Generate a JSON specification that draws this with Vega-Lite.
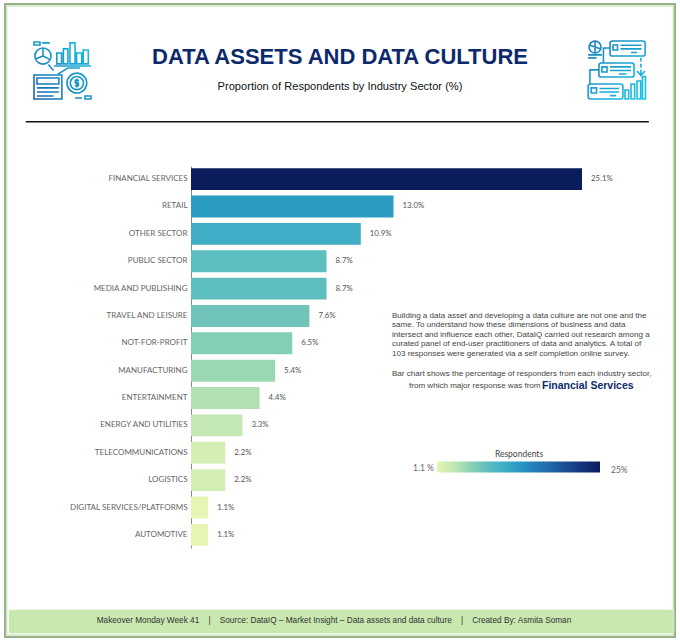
{
  "$schema": "https://vega.github.io/schema/vega-lite/v6.json",
  "width": 670,
  "height": 633,
  "autosize": {"type": "none"},
  "padding": {"left": 5, "top": 4, "right": 5, "bottom": 3},
  "background": "white",
  "config": {
    "view": {"stroke": "#97b08c", "strokeWidth": 2},
    "text": {"font": "Liberation Sans"}
  },
  "layer": [
    {
      "layer": [
        {
          "data": {"values": [{"part": "footer band"}]},
          "mark": {"type": "rect", "fill": "#c8e8b0"},
          "encoding": {
            "x": {"datum": 0.6, "axis": null, "scale": {"domain": [0, 100], "range": [0, 670]}},
            "x2": {"datum": 99.9},
            "y": {"datum": 95.7, "axis": null, "scale": {"domain": [0, 100], "range": [0, 633]}},
            "y2": {"datum": 99.4}
          }
        },
        {
          "data": {"values": [{"part": "frame inner edge"}]},
          "mark": {"type": "rect", "fill": null, "stroke": "#cfe8bf", "strokeWidth": 1.5},
          "encoding": {
            "x": {"datum": 0.25, "axis": null},
            "x2": {"datum": 99.75},
            "y": {"datum": 0.3, "axis": null},
            "y2": {"datum": 99.7}
          }
        },
        {
          "data": {"values": [{"part": "divider"}]},
          "mark": {"type": "rule", "color": "#111111", "strokeWidth": 1.5},
          "encoding": {
            "x": {"datum": 3.1, "axis": null},
            "x2": {"datum": 96.1},
            "y": {"datum": 18.6, "axis": null}
          }
        },
        {
          "data": {"values": [{"text": "DATA ASSETS AND DATA CULTURE"}]},
          "mark": {"type": "text", "font": "Liberation Sans", "fontSize": 22, "fontWeight": "bold", "color": "#0c2a6b", "align": "center", "baseline": "middle"},
          "encoding": {"text": {"field": "text"}, "x": {"datum": 50, "axis": null}, "y": {"datum": 8.3, "axis": null}}
        },
        {
          "data": {"values": [{"text": "Proportion of Respondents by Industry Sector (%)"}]},
          "mark": {"type": "text", "font": "Liberation Sans", "fontSize": 11.1, "color": "#111111", "align": "center", "baseline": "middle"},
          "encoding": {"text": {"field": "text"}, "x": {"datum": 50, "axis": null}, "y": {"datum": 13.1, "axis": null}}
        },
        {
          "data": {"values": [{"text": "Makeover Monday Week 41\u00a0\u00a0\u00a0\u00a0|\u00a0\u00a0\u00a0\u00a0Source: DataIQ \u2013 Market Insight \u2013 Data assets and data culture\u00a0\u00a0\u00a0\u00a0|\u00a0\u00a0\u00a0\u00a0Created By: Asmita Soman"}]},
          "mark": {"type": "text", "font": "Liberation Sans", "fontSize": 8.25, "color": "#333333", "align": "center", "baseline": "middle"},
          "encoding": {"text": {"field": "text"}, "x": {"datum": 49.1, "axis": null}, "y": {"datum": 97.5, "axis": null}}
        },
        {
          "data": {"values": [{"text": ["Building a data asset and developing a data culture are not one and the", "same. To understand how these dimensions of business and data", "intersect and influence each other, DataIQ carried out research among a", "curated panel of end-user practitioners of data and analytics. A total of", "103 responses were generated via a self completion online survey."]}]},
          "mark": {"type": "text", "font": "Liberation Sans", "fontSize": 8.05, "lineHeight": 9.5, "color": "#444444", "align": "left", "baseline": "top"},
          "encoding": {"text": {"field": "text"}, "x": {"datum": 57.76, "axis": null}, "y": {"datum": 48.6, "axis": null}}
        },
        {
          "data": {"values": [{"text": "Bar chart shows the percentage of responders from each industry sector,"}]},
          "mark": {"type": "text", "font": "Liberation Sans", "fontSize": 8.05, "color": "#444444", "align": "left", "baseline": "middle"},
          "encoding": {"text": {"field": "text"}, "x": {"datum": 57.76, "axis": null}, "y": {"datum": 58.45, "axis": null}}
        },
        {
          "data": {"values": [{"text": "from which major response was from"}]},
          "mark": {"type": "text", "font": "Liberation Sans", "fontSize": 8.05, "color": "#444444", "align": "left", "baseline": "middle"},
          "encoding": {"text": {"field": "text"}, "x": {"datum": 60.3, "axis": null}, "y": {"datum": 60.35, "axis": null}}
        },
        {
          "data": {"values": [{"text": "Financial Services"}]},
          "mark": {"type": "text", "font": "Liberation Sans", "fontSize": 10.5, "fontWeight": "bold", "color": "#0c2a6b", "align": "left", "baseline": "middle"},
          "encoding": {"text": {"field": "text"}, "x": {"datum": 80.15, "axis": null}, "y": {"datum": 60.4, "axis": null}}
        },
        {
          "data": {"values": [{"icon": "analytics"}]},
          "mark": {
            "type": "point",
            "filled": false,
            "size": 3600,
            "strokeWidth": 1.6,
            "opacity": 1,
            "stroke": {"gradient": "linear", "x1": 1, "y1": 0, "x2": 0, "y2": 1, "stops": [{"offset": 0, "color": "#18c6e6"}, {"offset": 1, "color": "#1a62a8"}]},
            "shape": "M-.95 -.95H-.75V-.85H-.95ZM-.68 -.92H-.42M-.92 -.48A.27 .27 0 1 1 -.38 -.48A.27 .27 0 1 1 -.92 -.48ZM-.65 -.75V-.48L-.42 -.36M-.65 -.48L-.9 -.38M-.47 -.2L-.3 0M-.19 -.22V-.58H-.03V-.22ZM.03 -.22V-.72H.18V-.22ZM.25 -.22V-.92H.42V-.22ZM.47 -.22V-.58H.64V-.22ZM.69 -.22V-.68H.86V-.22ZM-.28 -.15H.95M-.95 .15H-.02V.95H-.95ZM-.85 .25H-.12V.45H-.85ZM-.85 .58H-.12M-.85 .72H-.12M-.85 .85H-.3M-.15 .12L.18 -.08H.58M.15 .42A.33 .33 0 1 1 .81 .42A.33 .33 0 1 1 .15 .42ZM.26 .42A.22 .22 0 1 1 .7 .42A.22 .22 0 1 1 .26 .42ZM.55 .33H.43V.42H.53V.51H.41M.48 .27V.57M.42 .92H.65M.75 .85H.95V.95H.75Z"
          },
          "encoding": {"x": {"datum": 8.58, "axis": null}, "y": {"datum": 10.5, "axis": null}}
        },
        {
          "data": {"values": [{"icon": "workflow"}]},
          "mark": {
            "type": "point",
            "filled": false,
            "size": 3600,
            "strokeWidth": 1.6,
            "opacity": 1,
            "stroke": {"gradient": "linear", "x1": 0, "y1": 0, "x2": 1, "y2": 1, "stops": [{"offset": 0, "color": "#1a7fb8"}, {"offset": 1, "color": "#18c6e6"}]},
            "shape": "M-.9 -.78A.2 .2 0 1 1 -.5 -.78A.2 .2 0 1 1 -.9 -.78ZM-.7 -.98V-.58M-.88 -.84L-.52 -.72M-.93 -.52H-.47M-.93 -.42H-.65M-.2 -.9Q-.2 -.98 -.12 -.98H.89Q.97 -.98 .97 -.9V-.56Q.97 -.48 .89 -.48H-.12Q-.2 -.48 -.2 -.56ZM-.1 -.85H.05V-.68H-.1ZM.15 -.84H.85M.15 -.72H.85M.5 -.6H.7M-.2 -.75H-.42V-.25M-.57 -.17Q-.57 -.25 -.49 -.25H.52Q.6 -.25 .6 -.17V.14Q.6 .22 .52 .22H-.49Q-.57 .22 -.57 .14ZM-.47 -.12H-.3V.05H-.47ZM-.2 -.12H.5M-.2 0H.5M.1 .12H.35M-.57 -.02H-.87V.45M-.93 .53Q-.93 .45 -.85 .45H.15Q.23 .45 .23 .53V.87Q.23 .95 .15 .95H-.85Q-.93 .95 -.93 .87ZM-.83 .58H-.65V.75H-.83ZM-.55 .6H.1M-.55 .72H.1M-.2 .84H0M.3 .95V.65H.42V.95ZM.5 .95V.45H.62V.95ZM.7 .95V.35H.82V.95ZM.88 .95V.2H.98V.95ZM.83 -.42V-.3M.83 -.22V-.1M.83 -.02V.12M.7 .02L.83 .17L.96 .02"
          },
          "encoding": {"x": {"datum": 91.2, "axis": null}, "y": {"datum": 10.5, "axis": null}}
        }
      ]
    },
    {
      "data": {
        "values": [
          {"sector": "FINANCIAL SERVICES", "respondents": 25.1, "label": "25.1%"},
          {"sector": "RETAIL", "respondents": 13.0, "label": "13.0%"},
          {"sector": "OTHER SECTOR", "respondents": 10.9, "label": "10.9%"},
          {"sector": "PUBLIC SECTOR", "respondents": 8.7, "label": "8.7%"},
          {"sector": "MEDIA AND PUBLISHING", "respondents": 8.7, "label": "8.7%"},
          {"sector": "TRAVEL AND LEISURE", "respondents": 7.6, "label": "7.6%"},
          {"sector": "NOT-FOR-PROFIT", "respondents": 6.5, "label": "6.5%"},
          {"sector": "MANUFACTURING", "respondents": 5.4, "label": "5.4%"},
          {"sector": "ENTERTAINMENT", "respondents": 4.4, "label": "4.4%"},
          {"sector": "ENERGY AND UTILITIES", "respondents": 3.3, "label": "3.3%"},
          {"sector": "TELECOMMUNICATIONS", "respondents": 2.2, "label": "2.2%"},
          {"sector": "LOGISTICS", "respondents": 2.2, "label": "2.2%"},
          {"sector": "DIGITAL SERVICES/PLATFORMS", "respondents": 1.1, "label": "1.1%"},
          {"sector": "AUTOMOTIVE", "respondents": 1.1, "label": "1.1%"}
        ]
      },
      "encoding": {
        "y": {
          "field": "sector",
          "type": "nominal",
          "sort": null,
          "title": null,
          "scale": {"range": [162, 544], "paddingInner": 0.2, "paddingOuter": 0.08},
          "axis": {
            "orient": "left",
            "offset": -186,
            "ticks": false,
            "grid": false,
            "domainColor": "#888888",
            "domainWidth": 1,
            "labelFont": "Lato",
            "labelFontSize": 8,
            "labelColor": "#666666",
            "labelPadding": 4,
            "labelLimit": 200
          }
        },
        "x": {
          "field": "respondents",
          "type": "quantitative",
          "axis": null,
          "scale": {"domain": [0, 25.1], "range": [186, 577]}
        }
      },
      "layer": [
        {
          "mark": {"type": "bar"},
          "encoding": {
            "color": {
              "field": "respondents",
              "type": "quantitative",
              "scale": {
                "domain": [1.1, 25.1],
                "range": ["#e6f5b4", "#b8e3b3", "#78c8b8", "#48b4c6", "#2a9bc2", "#2478b4", "#20589f", "#15387e", "#0a1c5c"]
              },
              "legend": {
                "orient": "none",
                "direction": "horizontal",
                "legendX": 432,
                "legendY": 446,
                "title": "Respondents",
                "titleFont": "Lato",
                "titleFontSize": 8.5,
                "titleFontWeight": "normal",
                "titleColor": "#444444",
                "titleAnchor": "middle",
                "titlePadding": 3,
                "gradientLength": 163,
                "gradientThickness": 11,
                "gradientStrokeColor": "#cccccc",
                "values": [1.1, 25.1],
                "labelFont": "Lato",
                "labelFontSize": 8.5,
                "labelColor": "#666666",
                "labelExpr": "datum.value < 2 ? '1.1 %' : '25%'",
                "encode": {
                  "labels": {
                    "update": {
                      "x": {"signal": "datum.value < 2 ? -24 : 174"},
                      "y": {"signal": "datum.value < 2 ? 6 : 8"},
                      "align": {"value": "left"},
                      "baseline": {"value": "middle"}
                    }
                  }
                }
              }
            }
          }
        },
        {
          "mark": {"type": "text", "font": "Lato", "fontSize": 7.8, "color": "#555555", "align": "left", "baseline": "middle", "dx": 9},
          "encoding": {"text": {"field": "label"}}
        }
      ]
    }
  ],
  "resolve": {"scale": {"x": "independent", "y": "independent"}}
}
